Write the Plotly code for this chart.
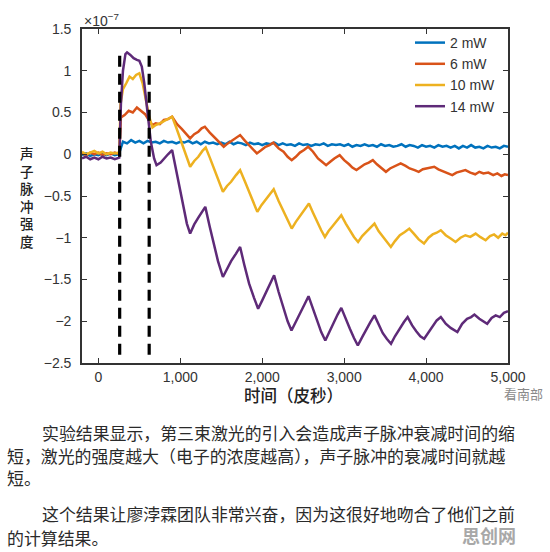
import plotly.graph_objects as go

# ---------------- data (values in units of 1e-7) ----------------
series_names = ["2 mW", "6 mW", "10 mW", "14 mW"]
series_colors = ["#0072BD", "#D95319", "#EDB120", "#5E2A78"]

t_2mw = list(range(-200, 5001, 50))
y_2mw = [-0.01, 0.01, -0.02, 0.00, -0.01, 0.01, -0.01, 0.01, -0.01, 0.00,
         0.15, 0.13, 0.17, 0.14, 0.16, 0.13, 0.16, 0.14, 0.15, 0.13,
         0.16, 0.14, 0.15, 0.13, 0.15, 0.14, 0.16, 0.13, 0.15, 0.12,
         0.15, 0.13, 0.14, 0.12, 0.14, 0.12, 0.15, 0.12, 0.14, 0.13,
         0.11, 0.14, 0.12, 0.13, 0.11, 0.13, 0.12, 0.14, 0.11, 0.13,
         0.11, 0.12, 0.10, 0.13, 0.11, 0.12, 0.10, 0.12, 0.11, 0.13,
         0.10, 0.12, 0.11, 0.12, 0.10, 0.12, 0.09, 0.11, 0.10, 0.12,
         0.10, 0.11, 0.09, 0.12, 0.10, 0.11, 0.09, 0.10, 0.12, 0.09,
         0.11, 0.10, 0.08, 0.11, 0.09, 0.10, 0.08, 0.11, 0.09, 0.10,
         0.08, 0.10, 0.07, 0.10, 0.08, 0.11, 0.08, 0.09, 0.07, 0.10,
         0.08, 0.09, 0.07, 0.10, 0.09]

t_6mw = [-200, -150, -100, -50, 0, 50, 100, 150, 200, 255,
         275, 320, 370, 420, 470, 520, 570, 620, 660, 700, 750, 800, 850, 900,
         960, 1020, 1070, 1120, 1170, 1220, 1260, 1300, 1360, 1420, 1480, 1530,
         1580, 1630, 1680, 1730, 1790, 1850, 1900, 1935, 1990, 2040, 2090, 2135,
         2200, 2260, 2310, 2360, 2410, 2460, 2510, 2560, 2620, 2680, 2730, 2780,
         2830, 2880, 2945, 3000, 3060, 3100, 3150, 3200, 3250, 3300, 3350, 3400,
         3460, 3510, 3560, 3620, 3690, 3750, 3800, 3860, 3910, 3960, 4000, 4050,
         4100, 4150, 4200, 4260, 4320, 4370, 4420, 4480, 4540, 4600, 4650, 4700,
         4760, 4820, 4870, 4920, 4960, 5000]
y_6mw = [0.01, -0.01, 0.02, 0.00, 0.02, -0.01, 0.01, 0.00, 0.02, 0.00,
         0.44, 0.47, 0.52, 0.50, 0.56, 0.52, 0.48, 0.40, 0.35, 0.37, 0.36, 0.41, 0.42, 0.45,
         0.36, 0.30, 0.24, 0.19, 0.24, 0.27, 0.31, 0.33, 0.26, 0.20, 0.14, 0.09,
         0.13, 0.16, 0.20, 0.23, 0.16, 0.10, 0.05, 0.01, 0.05, 0.09, 0.11, 0.14,
         0.07, 0.03, -0.03, -0.07, -0.03, 0.02, 0.05, 0.09, 0.03, -0.05, -0.09, -0.13,
         -0.09, -0.05, -0.01, -0.07, -0.12, -0.16, -0.19, -0.15, -0.12, -0.10, -0.07, -0.12,
         -0.17, -0.21, -0.17, -0.14, -0.11, -0.14, -0.17, -0.19, -0.21, -0.18, -0.17, -0.16,
         -0.15, -0.18, -0.20, -0.23, -0.25, -0.22, -0.21, -0.19, -0.22, -0.24, -0.21, -0.23,
         -0.22, -0.25, -0.23, -0.26, -0.24, -0.25]

t_10mw = [-200, -150, -100, -50, 0, 50, 100, 150, 200, 255,
          270, 300, 340, 380, 420, 460, 500, 540, 580, 620, 660, 700, 750, 800, 850, 900,
          950, 1000, 1060, 1120, 1170, 1220, 1270, 1310, 1360, 1420, 1470, 1520,
          1570, 1620, 1680, 1730, 1790, 1850, 1900, 1940, 1990, 2040, 2090, 2140,
          2200, 2260, 2310, 2360, 2410, 2460, 2520, 2570, 2620, 2680, 2720, 2765,
          2810, 2860, 2910, 2965, 3020, 3070, 3120, 3170, 3220, 3270, 3320, 3370,
          3420, 3470, 3520, 3570, 3620, 3680, 3740, 3795, 3850, 3910, 3975, 4030,
          4080, 4130, 4180, 4240, 4300, 4360, 4420, 4480, 4540, 4605, 4660, 4727,
          4780, 4830, 4880, 4930, 4970, 5000]
y_10mw = [0.03, 0.00, 0.02, 0.04, 0.01, 0.03, 0.00, 0.02, 0.01, 0.02,
          0.60, 0.78, 0.85, 0.93, 0.90, 0.95, 0.97, 0.85, 0.65, 0.45, 0.32, 0.35, 0.37, 0.40, 0.42, 0.45,
          0.32, 0.18, 0.02, -0.15, -0.08, -0.03, 0.04, 0.08, -0.04, -0.20, -0.33, -0.45,
          -0.38, -0.33, -0.25, -0.19, -0.33, -0.48, -0.60, -0.69, -0.61, -0.55, -0.48, -0.42,
          -0.56, -0.68, -0.79, -0.89, -0.81, -0.74, -0.66, -0.59, -0.70, -0.83, -0.91, -0.99,
          -0.92, -0.86, -0.80, -0.73, -0.83, -0.91, -0.99, -1.05, -0.98, -0.93, -0.88, -0.83,
          -0.92, -0.98, -1.05, -1.11, -1.04, -0.97, -0.93, -0.89, -0.95, -1.02, -1.07, -1.00,
          -0.96, -0.94, -0.91, -0.97, -1.01, -1.05, -1.00, -0.97, -0.99, -0.95, -0.99, -1.03,
          -0.98, -0.96, -1.00, -0.95, -0.97, -0.94]

t_14mw = [-200, -150, -100, -50, 0, 50, 100, 150, 200, 255,
          275, 300, 330, 350, 390, 430, 470, 500, 530, 560, 600, 640, 680, 710, 760, 800, 850, 900,
          940, 990, 1040, 1080, 1120, 1170, 1220, 1260, 1305, 1360, 1410, 1460, 1520,
          1570, 1620, 1680, 1730, 1780, 1840, 1900, 1950, 2000, 2050, 2100, 2145,
          2200, 2260, 2310, 2357, 2410, 2460, 2520, 2565, 2620, 2680, 2720, 2770,
          2820, 2870, 2920, 2965, 3020, 3070, 3120, 3167, 3220, 3270, 3320, 3370,
          3420, 3470, 3520, 3572, 3620, 3680, 3730, 3775, 3830, 3880, 3930, 3977,
          4030, 4080, 4130, 4180, 4240, 4300, 4340, 4382, 4440, 4500, 4550, 4590,
          4650, 4700, 4746, 4800, 4850, 4900, 4950, 5000]
y_14mw = [-0.05, -0.03, -0.06, -0.04, -0.06, -0.03, -0.05, -0.04, -0.06, -0.04,
          0.60, 1.00, 1.20, 1.22, 1.19, 1.15, 1.13, 1.12, 1.05, 0.85, 0.50, 0.15, -0.05, -0.13, -0.10, -0.05, 0.00, 0.05,
          -0.15, -0.40, -0.65, -0.83, -0.95, -0.84, -0.76, -0.70, -0.63, -0.87, -1.08, -1.28, -1.47,
          -1.37, -1.28, -1.19, -1.11, -1.32, -1.55, -1.72, -1.85, -1.75, -1.64, -1.54, -1.45,
          -1.65, -1.85, -2.00, -2.11, -2.00, -1.90, -1.79, -1.70, -1.86, -2.02, -2.13, -2.23,
          -2.12, -2.02, -1.92, -1.84, -1.98, -2.09, -2.20, -2.29, -2.19, -2.09, -2.01, -1.93,
          -2.04, -2.14, -2.21, -2.27, -2.18, -2.08, -2.01, -1.95, -2.05, -2.12, -2.18, -2.21,
          -2.13, -2.05, -1.99, -1.95, -2.03, -2.08, -2.10, -2.13, -2.03, -1.97, -1.95, -1.92,
          -1.97, -2.00, -2.03, -1.96, -1.93, -1.95, -1.90, -1.88]

pulse_window = [260, 620]          # dashed markers (ps)
pulse_marker_y = [-2.4, 1.2]       # vertical extent of dashed markers

x_tick_vals = [0, 1000, 2000, 3000, 4000, 5000]
x_tick_text = ["0", "1,000", "2,000", "3,000", "4,000", "5,000"]
y_tick_vals = [-2.5, -2, -1.5, -1, -0.5, 0, 0.5, 1, 1.5]
y_tick_text = ["\u22122.5", "\u22122", "\u22121.5", "\u22121", "\u22120.5", "0", "0.5", "1", "1.5"]

y_title_chars = ["声", "子", "脉", "冲", "强", "度"]
x_title = "时间（皮秒）"
paragraph_lines = [
    "实验结果显示，第三束激光的引入会造成声子脉冲衰减时间的缩",
    "短，激光的强度越大（电子的浓度越高），声子脉冲的衰减时间就越",
    "短。",
    "这个结果让廖浡霖团队非常兴奋，因为这很好地吻合了他们之前",
    "的计算结果。",
]

# ---------------- figure ----------------
W, H = 550, 552
PL, PR, PT, PB = 82, 508, 29, 363


def pxx(px):
    return (px - PL) / (PR - PL)


def pxy(py):
    return (PB - py) / (PB - PT)


fig = go.Figure()
all_t = [t_2mw, t_6mw, t_10mw, t_14mw]
all_y = [y_2mw, y_6mw, y_10mw, y_14mw]
for name, col, tt, yy in zip(series_names, series_colors, all_t, all_y):
    assert len(tt) == len(yy), name
    fig.add_trace(go.Scatter(x=tt, y=yy, mode="lines", name=name,
                             line=dict(color=col, width=2.5)))

for xv in pulse_window:
    fig.add_trace(go.Scatter(x=[xv, xv], y=pulse_marker_y, mode="lines",
                             showlegend=False, hoverinfo="skip",
                             line=dict(color="black", width=3.2, dash="11px,7px")))

axis_font = dict(family="Liberation Sans, Arial, sans-serif", size=14, color="#333")
fig.update_xaxes(range=[-200, 5000], tickvals=x_tick_vals, ticktext=x_tick_text,
                 ticks="inside", ticklen=5, tickwidth=1.3, tickcolor="#333",
                 showline=True, linecolor="#333", linewidth=1.6, mirror="ticks",
                 showgrid=False, zeroline=False, tickfont=axis_font)
fig.update_yaxes(range=[-2.5, 1.5], tickvals=y_tick_vals, ticktext=y_tick_text,
                 ticks="inside", ticklen=5, tickwidth=1.3, tickcolor="#333",
                 showline=True, linecolor="#333", linewidth=1.6, mirror="ticks",
                 showgrid=False, zeroline=False, tickfont=axis_font,
                 ticklabelstandoff=6)

annotations = []
# exponent label
annotations.append(dict(x=pxx(82), y=pxy(20), xref="paper", yref="paper",
                        text="×10<sup>−7</sup>", showarrow=False,
                        xanchor="left", yanchor="middle",
                        font=dict(family="Liberation Sans, Arial, sans-serif", size=14, color="#333")))
# y title (stacked, one text)
annotations.append(dict(x=pxx(27), y=pxy(197), xref="paper", yref="paper",
                        text="<br>".join(y_title_chars), showarrow=False,
                        xanchor="center", yanchor="middle",
                        font=dict(family="Noto Sans CJK SC", size=13.5, color="#222", weight=500)))
# x title
annotations.append(dict(x=pxx(293), y=pxy(395), xref="paper", yref="paper",
                        text=x_title, showarrow=False, xanchor="center", yanchor="middle",
                        font=dict(family="Noto Sans CJK SC", size=16.5, color="#222", weight=500)))
# small watermark
annotations.append(dict(x=pxx(545), y=pxy(394), xref="paper", yref="paper",
                        text="看南部", showarrow=False, xanchor="right", yanchor="middle",
                        font=dict(family="Noto Sans CJK SC", size=13, color="#8a8a8a")))
# paragraph text
line_pos = [(40, 432), (5, 455), (5, 478), (40, 513), (5, 537)]
for txt, (lx, ly) in zip(paragraph_lines, line_pos):
    annotations.append(dict(x=pxx(lx), y=pxy(ly), xref="paper", yref="paper",
                            text=txt, showarrow=False, xanchor="left", yanchor="middle",
                            font=dict(family="Noto Sans CJK SC", size=16.9, color="#2a2a2a")))
# bottom-right watermark
annotations.append(dict(x=pxx(518), y=pxy(535), xref="paper", yref="paper",
                        text="思创网", showarrow=False, xanchor="right", yanchor="middle",
                        font=dict(family="Noto Sans CJK SC", size=18, color="#a8a8a8", weight=700)))

fig.update_layout(
    width=W, height=H,
    margin=dict(l=PL, r=W - PR, t=PT, b=H - PB, pad=0),
    paper_bgcolor="white", plot_bgcolor="white",
    showlegend=True,
    legend=dict(x=pxx(410), y=pxy(27), xanchor="left", yanchor="top",
                bgcolor="rgba(0,0,0,0)", borderwidth=0,
                font=dict(family="Liberation Sans, Arial, sans-serif", size=14, color="#333"),
                tracegroupgap=0),
    annotations=annotations,
)

fig.write_html("out.html", config={"displayModeBar": False},
               post_script="document.body.style.margin='0';document.body.style.overflow='hidden';")
